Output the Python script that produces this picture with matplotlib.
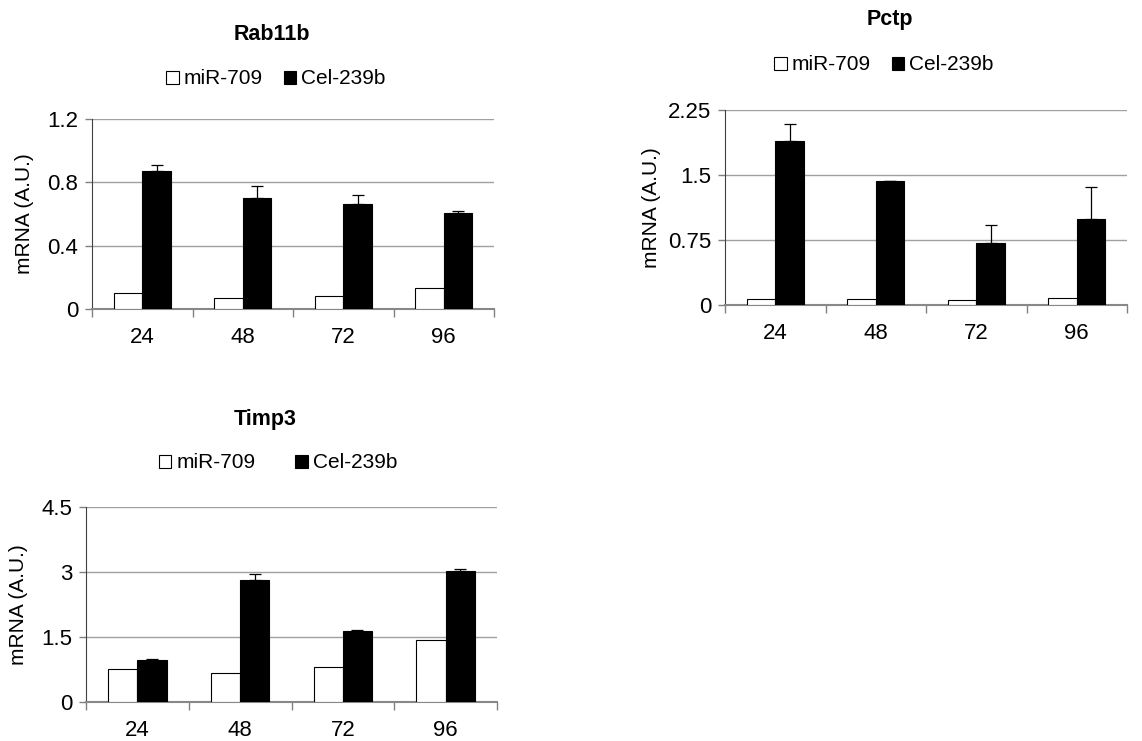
import matplotlib
matplotlib.use('Agg')
import matplotlib.pyplot as plt
from matplotlib.patches import Patch
import numpy as np

plt.rcParams['font.family'] = ['Liberation Sans', 'DejaVu Sans']

hours = ['24', '48', '72', '96']
series_names = ['miR-709', 'Cel-239b']

rab11b_mir = [0.10, 0.067, 0.082, 0.13]
rab11b_cel = [0.87, 0.70, 0.663, 0.606]
rab11b_cel_err = [0.04, 0.078, 0.06, 0.01]

pctp_mir = [0.065, 0.065, 0.054, 0.085]
pctp_cel = [1.896, 1.427, 0.719, 0.992]
pctp_cel_err = [0.19, 0.0, 0.20, 0.37]

timp3_mir = [0.764, 0.68, 0.81, 1.43]
timp3_cel = [0.98, 2.81, 1.644, 3.02]
timp3_cel_err = [0.02, 0.15, 0.02, 0.04]

W, H = 1142.0, 741.0
fig = plt.figure(figsize=(W / 100, H / 100), dpi=100)


def px_axes(left, top, right, bottom):
    return fig.add_axes([left / W, 1 - bottom / H, (right - left) / W, (bottom - top) / H])


def draw_panel(ax, mir, cel, cel_err, ymax, yticks, yticklabels, ylab_x):
    x = np.arange(len(hours))
    bw = 0.284
    ax.bar(x - bw / 2, mir, bw, color='white', edgecolor='black', linewidth=0.8, zorder=3)
    ax.bar(x + bw / 2, cel, bw, color='black', edgecolor='black', linewidth=0.8, zorder=3)
    ax.errorbar(x + bw / 2, cel, yerr=[np.zeros(len(cel)), cel_err], fmt='none',
                ecolor='black', elinewidth=0.9, capsize=4, capthick=0.9, zorder=4)
    ax.set_xlim(-0.5, len(hours) - 0.5)
    ax.set_ylim(0, ymax)
    ax.set_yticks(yticks)
    ax.set_yticklabels(yticklabels)
    ax.set_xticks(x)
    ax.set_xticklabels(hours)
    ax.set_xticks(np.arange(len(hours) + 1) - 0.5, minor=True)
    ax.tick_params(axis='x', which='major', length=0, pad=13, labelsize=16)
    ax.tick_params(axis='x', which='minor', length=6, width=1, color='#808080', direction='out')
    ax.tick_params(axis='y', length=5, width=1, color='#808080', pad=5, labelsize=16)
    ax.yaxis.grid(True, color='#a0a0a0', linewidth=1)
    ax.set_axisbelow(True)
    for s in ['top', 'right']:
        ax.spines[s].set_visible(False)
    ax.spines['left'].set_color('#404040')
    ax.spines['left'].set_linewidth(0.8)
    ax.spines['bottom'].set_color('#888888')
    ax.spines['bottom'].set_linewidth(1.5)
    ax.set_ylabel('mRNA (A.U.)', fontsize=15)
    ax.yaxis.set_label_coords(ylab_x, 0.5)


def add_legend(cx, cy, spacing):
    handles = [Patch(facecolor='white', edgecolor='black', linewidth=0.8),
               Patch(facecolor='black', edgecolor='black', linewidth=0.8)]
    fig.legend(handles, series_names, loc='center', bbox_to_anchor=(cx / W, 1 - cy / H),
               ncol=2, frameon=False, fontsize=15, handlelength=0.6, handleheight=0.6,
               handletextpad=0.25, columnspacing=spacing, borderpad=0)


ax1 = px_axes(92, 119, 494, 309)
draw_panel(ax1, rab11b_mir, rab11b_cel, rab11b_cel_err, 1.2,
           [0, 0.4, 0.8, 1.2], ['0', '0.4', '0.8', '1.2'], -0.145)
fig.text(272 / W, 1 - 35 / H, 'Rab11b', ha='center', va='center', fontsize=15.5, fontweight='bold')
add_legend(276, 79, 1.0)

ax2 = px_axes(725, 110, 1127, 305)
draw_panel(ax2, pctp_mir, pctp_cel, pctp_cel_err, 2.25,
           [0, 0.75, 1.5, 2.25], ['0', '0.75', '1.5', '2.25'], -0.16)
fig.text(890 / W, 1 - 19 / H, 'Pctp', ha='center', va='center', fontsize=15.5, fontweight='bold')
add_legend(884, 65, 1.0)

ax3 = px_axes(86, 507, 497, 702)
draw_panel(ax3, timp3_mir, timp3_cel, timp3_cel_err, 4.5,
           [0, 1.5, 3, 4.5], ['0', '1.5', '3', '4.5'], -0.14)
fig.text(265 / W, 1 - 420 / H, 'Timp3', ha='center', va='center', fontsize=15.5, fontweight='bold')
add_legend(278, 463, 1.9)

fig.savefig('out.png', dpi=100)
